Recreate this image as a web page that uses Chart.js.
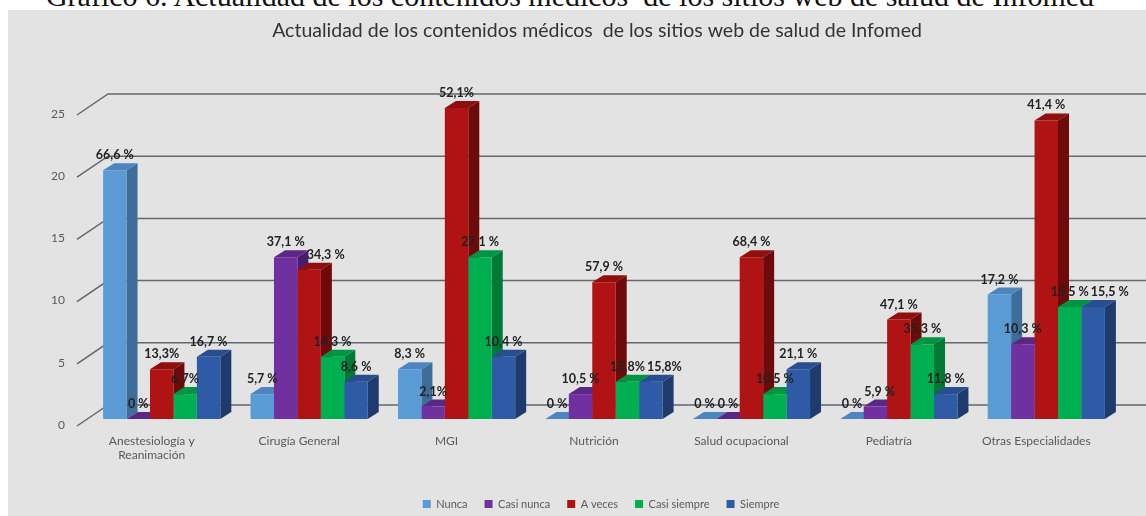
<!DOCTYPE html>
<html lang="es">
<head>
  <meta charset="UTF-8">
  <title>Actualidad de los contenidos médicos</title>
  <style>
    body {
      margin: 0;
      width: 1146px;
      height: 516px;
      overflow: hidden;
      position: relative;
      background: #fff;
    }
    #caption {
      position: absolute;
      top: -19px;
      left: 0;
      width: 1140px;
      text-align: center;
      font-family: "Liberation Serif", "DejaVu Serif", serif;
      font-size: 30px;
      line-height: 30px;
      color: #111;
      white-space: pre;
    }
    #panel {
      position: absolute;
      left: 8px;
      top: 10px;
      right: 0;
      bottom: 0;
      background: #e3e3e3;
    }
    #chart {
      position: absolute;
      left: 0;
      top: 0;
    }
  </style>
</head>
<body>
  <div id="caption">Gráfico 6. Actualidad de los contenidos médicos  de los sitios web de salud de Infomed</div>
  <div id="panel"></div>
  <canvas id="chart" width="1146" height="516"></canvas>

  <script src="https://cdn.jsdelivr.net/npm/chart.js"></script>
  <script>
    const chartTitle = 'Actualidad de los contenidos médicos  de los sitios web de salud de Infomed';
    const categories = [['Anestesiología y', 'Reanimación'], 'Cirugía General', 'MGI', 'Nutrición',
                        'Salud ocupacional', 'Pediatría', 'Otras Especialidades'];
    const seriesNames = ['Nunca', 'Casi nunca', 'A veces', 'Casi siempre', 'Siempre'];

    // counts (bar heights)
    const nunca       = [20, 2, 4, 0, 0, 0, 10];
    const casiNunca   = [0, 13, 1, 2, 0, 1, 6];
    const aVeces      = [4, 12, 25, 11, 13, 8, 24];
    const casiSiempre = [2, 5, 13, 3, 2, 6, 9];
    const siempre     = [5, 3, 5, 3, 4, 2, 9];

    // percentage labels shown over the bars
    const nuncaPct       = ['66,6 %', '5,7 %', '8,3 %', '0 %', '0 %', '0 %', '17,2 %'];
    const casiNuncaPct   = ['0 %', '37,1 %', '2,1%', '10,5 %', '0 %', '5,9 %', '10,3 %'];
    const aVecesPct      = ['13,3%', '34,3 %', '52,1%', '57,9 %', '68,4 %', '47,1 %', '41,4 %'];
    const casiSiemprePct = ['6,7%', '14,3 %', '27,1 %', '15,8%', '10,5 %', '35,3 %', '15,5 %'];
    const siemprePct     = ['16,7 %', '8,6 %', '10,4 %', '15,8%', '21,1 %', '11,8 %', '15,5 %'];

    const seriesValues = [nunca, casiNunca, aVeces, casiSiempre, siempre];
    const seriesPct = [nuncaPct, casiNuncaPct, aVecesPct, casiSiemprePct, siemprePct];

    const frontColors = ['#5b9bd5', '#7030a0', '#b01313', '#00b050', '#2e5aa6'];
    const sideColors  = ['#3e6d99', '#4a1d6c', '#6e0a0a', '#007a35', '#1f3b6e'];
    const topColors   = ['#4d86bf', '#5c2687', '#8f0e0e', '#009443', '#284e90'];

    const DX = 11, DY = 7;

    // back wall gridlines with the slanted side-wall part
    const wallPlugin = {
      id: 'wall',
      beforeDatasetsDraw(chart) {
        const { ctx, chartArea, scales: { y } } = chart;
        ctx.save();
        ctx.strokeStyle = '#5f6873';
        ctx.lineWidth = 1.5;
        y.ticks.forEach(t => {
          const py = y.getPixelForValue(t.value);
          ctx.beginPath();
          ctx.moveTo(chartArea.left - 11, py + 7);
          ctx.lineTo(chartArea.left + 20, py - 14);
          ctx.lineTo(chart.width, py - 14);
          ctx.stroke();
        });
        ctx.restore();
      }
    };

    // side and top faces of each bar, drawn left to right
    const depthPlugin = {
      id: 'depth',
      beforeDatasetsDraw(chart) {
        const ctx = chart.ctx;
        ctx.save();
        for (let i = 0; i < categories.length; i++) {
          for (let d = 0; d < seriesValues.length; d++) {
            const bar = chart.getDatasetMeta(d).data[i];
            const { x, y, base, width } = bar.getProps(['x', 'y', 'base', 'width'], true);
            const l = x - width / 2, r = x + width / 2;
            ctx.fillStyle = sideColors[d];
            ctx.beginPath();
            ctx.moveTo(r, y);
            ctx.lineTo(r + DX, y - DY);
            ctx.lineTo(r + DX, base - DY);
            ctx.lineTo(r, base);
            ctx.closePath();
            ctx.fill();
            ctx.fillStyle = topColors[d];
            ctx.beginPath();
            ctx.moveTo(l, y);
            ctx.lineTo(l + DX, y - DY);
            ctx.lineTo(r + DX, y - DY);
            ctx.lineTo(r, y);
            ctx.closePath();
            ctx.fill();
          }
        }
        ctx.restore();
      }
    };

    // percentage labels above the bars; a label that would overlap one
    // already placed is pushed to the right
    const labelPlugin = {
      id: 'pctLabels',
      afterDatasetsDraw(chart) {
        const ctx = chart.ctx;
        ctx.save();
        ctx.font = 'bold 12.5px Lato';
        ctx.fillStyle = '#222';
        ctx.textAlign = 'left';
        ctx.textBaseline = 'middle';
        const placed = [];
        for (let i = 0; i < categories.length; i++) {
          for (let d = 0; d < seriesValues.length; d++) {
            const bar = chart.getDatasetMeta(d).data[i];
            const txt = seriesPct[d][i];
            const w = ctx.measureText(txt).width;
            const cy = bar.y - 15;
            let left = bar.x - w / 2;
            placed.forEach(p => {
              if (Math.abs(p.cy - cy) < 13 && left < p.right + 2 && left + w > p.left) {
                left = p.right + 2;
              }
            });
            placed.push({ left, right: left + w, cy });
            ctx.fillText(txt, left, cy);
          }
        }
        ctx.restore();
      }
    };

    // title and legend sit a bit right of centre, legend slightly lower
    const blockShift = {
      id: 'blockShift',
      afterLayout(chart) {
        const lg = chart.legend;
        lg.left += 41; lg.right += 41;
        lg.top += 3.5; lg.bottom += 3.5;
        const tb = chart.titleBlock;
        tb.left += 37; tb.right += 37;
      }
    };

    const ctx = document.getElementById('chart').getContext('2d');
    new Chart(ctx, {
      type: 'bar',
      data: {
        labels: categories,
        datasets: seriesNames.map((name, i) => ({
          label: name,
          data: seriesValues[i],
          backgroundColor: frontColors[i],
          borderWidth: 0,
          categoryPercentage: 0.795,
          barPercentage: 1
        }))
      },
      options: {
        responsive: false,
        animation: false,
        layout: { padding: { left: 0, right: 26, top: 0, bottom: 0 } },
        plugins: {
          title: {
            display: true,
            text: chartTitle,
            color: '#333',
            font: { family: 'Lato', size: 19.5, weight: 'normal', lineHeight: 1.2 },
            padding: { top: 19.3, bottom: 65.3 }
          },
          legend: {
            position: 'bottom',
            labels: {
              boxWidth: 8,
              boxHeight: 8,
              padding: 17,
              color: '#595959',
              font: { family: 'Lato', size: 11 }
            }
          },
          tooltip: { enabled: false }
        },
        scales: {
          x: {
            grid: { display: false, drawTicks: false },
            border: { display: false },
            ticks: {
              color: '#595959',
              font: { family: 'Lato', size: 12 },
              padding: 15,
              labelOffset: -10,
              maxRotation: 0,
              autoSkip: false
            },
            afterFit(scale) { scale.height = 59; }
          },
          y: {
            min: 0,
            max: 25,
            grid: { display: false, drawTicks: false },
            border: { display: false },
            ticks: {
              stepSize: 5,
              color: '#595959',
              font: { family: 'Lato', size: 12 },
              padding: 23,
              labelOffset: 6
            },
            afterFit(scale) { scale.width = 88; }
          }
        }
      },
      plugins: [wallPlugin, depthPlugin, labelPlugin, blockShift]
    });
  </script>
</body>
</html>
